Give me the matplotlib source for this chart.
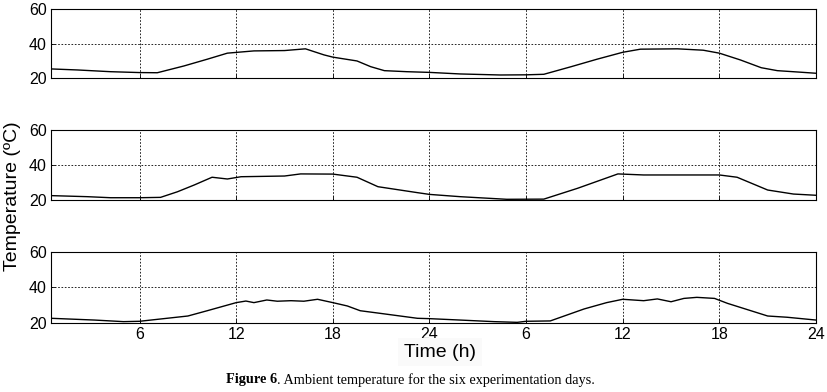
import matplotlib
matplotlib.use("Agg")
import matplotlib.pyplot as plt

# ---- data (hours over two days, temperature in degC) ----
hours_a = [0.5, 2.15, 4.2, 6.0, 7.1, 8.75, 10.2, 11.45, 13.1, 15.0, 16.3, 17.45, 18.0, 19.5, 20.35,
           21.2, 22.6, 24.0, 25.9, 28.4, 30.0, 31.1, 32.8, 34.4, 36.0, 37.1, 39.4, 41.0, 42.0,
           43.3, 44.6, 45.6, 46.9, 48.0]
temp_a = [25.4, 24.8, 23.8, 23.3, 23.2, 27.1, 31.0, 34.5, 35.8, 36.0, 37.0, 33.5, 32.2, 30.0, 26.7,
          24.4, 23.8, 23.4, 22.5, 21.9, 22.0, 22.3, 26.7, 31.0, 35.0, 36.8, 37.0, 36.2, 34.5,
          30.6, 26.1, 24.4, 23.6, 22.9]

hours_b = [0.5, 2.75, 4.2, 6.0, 7.3, 8.35, 9.4, 10.5, 11.45, 12.3, 15.0, 16.0, 18.0, 19.5, 20.8,
           23.25, 24.0, 25.9, 28.8, 31.1, 33.2, 35.7, 37.3, 42.0, 43.1, 45.0, 46.6, 48.0]
temp_b = [22.5, 21.9, 21.3, 21.3, 21.5, 24.7, 28.6, 33.0, 32.0, 33.3, 33.7, 34.9, 34.8, 33.0, 27.6,
          24.2, 23.2, 21.9, 20.4, 20.5, 26.7, 34.9, 34.3, 34.3, 33.0, 25.7, 23.4, 22.7]

hours_c = [0.5, 3.2, 5.0, 6.0, 7.3, 9.0, 10.2, 12.0, 12.6, 13.1, 13.9, 14.55, 15.4, 16.2, 17.05,
           18.0, 18.9, 19.7, 20.95, 23.25, 24.0, 25.9, 28.0, 29.45, 30.0, 31.5, 33.6, 35.0, 36.0,
           37.3, 38.15, 39.0, 39.8, 40.6, 41.7, 42.5, 45.0, 46.2, 48.0]
temp_c = [22.5, 21.5, 20.6, 20.8, 22.1, 23.8, 26.8, 31.4, 32.3, 31.4, 32.9, 32.2, 32.5, 32.2, 33.3,
          31.4, 29.5, 26.8, 25.3, 22.5, 22.3, 21.5, 20.6, 20.2, 20.8, 21.0, 27.8, 31.4, 33.3,
          32.5, 33.5, 31.9, 33.8, 34.4, 33.8, 31.0, 23.8, 23.1, 21.5]

tick_pos = [6, 12, 18, 24, 30, 36, 42, 48]
tick_labels = ["6", "12", "18", "24", "6", "12", "18", "24"]
y_ticks = [20, 40, 60]

series = [(hours_a, temp_a), (hours_b, temp_b), (hours_c, temp_c)]

plt.rcParams['font.family'] = ['Liberation Sans', 'DejaVu Sans']

fig = plt.figure(figsize=(8.28, 3.92), dpi=100)
left, width = 0.0616, 0.9239
boxes = [(0.8003, 0.1768), (0.4898, 0.1786), (0.1768, 0.1796)]

for i, ((hx, ty), (b, h)) in enumerate(zip(series, boxes)):
    ax = fig.add_axes([left, b, width, h])
    ax.plot(hx, ty, color='black', lw=1.0)
    ax.set_xlim(0.5, 48)
    ax.set_ylim(20, 60)
    ax.set_yticks(y_ticks)
    ax.set_xticks(tick_pos)
    if i == 2:
        ax.set_xticklabels(tick_labels)
    else:
        ax.set_xticklabels([])
    ax.tick_params(direction='in', length=3, width=0.6, labelsize=11.5, pad=3,
                   top=False, right=False)
    ax.grid(True, linestyle=(0, (2, 2)), color='black', lw=0.6)
    for s in ax.spines.values():
        s.set_color('black')
        s.set_linewidth(0.8)

fig.text(0.015, 0.5, 'Temperature (ºC)', rotation=90, fontsize=14,
         ha='center', va='center')
fig.text(0.5315, 0.102, 'Time (h)', fontsize=14, ha='center', va='center',
         bbox=dict(facecolor='#fafafa', edgecolor='none', pad=4))
cap_x = 226 / 828
serif = ['Liberation Serif', 'DejaVu Serif']
t1 = fig.text(cap_x, 0.031, 'Figure 6', fontsize=10.3, ha='left', va='center',
              family=serif, weight='bold')
fig.canvas.draw()
bb = t1.get_window_extent()
x2 = bb.x1 / fig.bbox.width
fig.text(x2, 0.031, '. Ambient temperature for the six experimentation days.', fontsize=10.3,
         ha='left', va='center', family=serif)

fig.savefig('out.png', dpi=100)
